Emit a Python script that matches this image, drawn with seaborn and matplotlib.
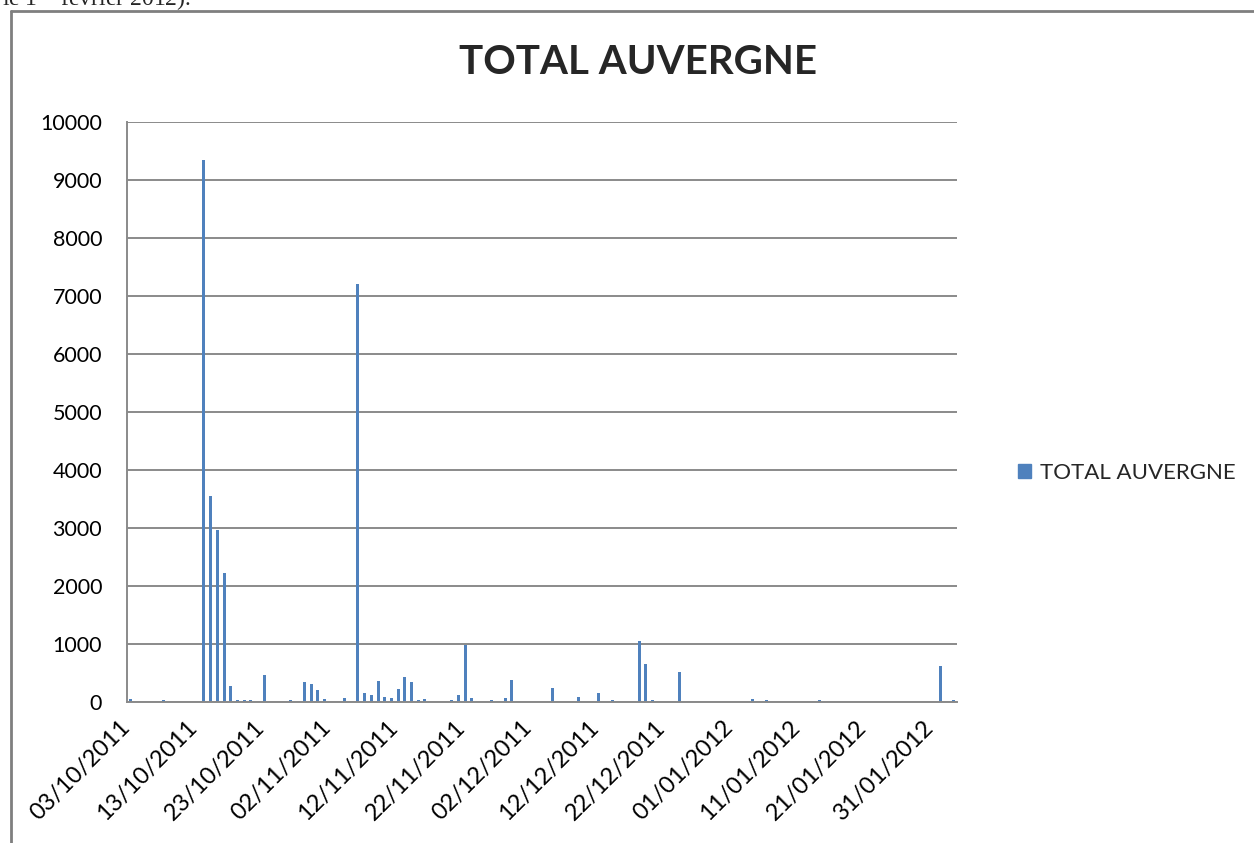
from datetime import datetime, timedelta

import numpy as np
import pandas as pd
import matplotlib.pyplot as plt
from matplotlib.lines import Line2D
import seaborn as sns


START = "03/10/2011"
END = "04/02/2012"
DATES = [
    "03/10/2011", "08/10/2011", "14/10/2011", "15/10/2011", "16/10/2011",
    "17/10/2011", "18/10/2011", "19/10/2011", "20/10/2011", "21/10/2011",
    "23/10/2011", "27/10/2011", "29/10/2011", "30/10/2011", "31/10/2011",
    "01/11/2011", "04/11/2011", "06/11/2011", "07/11/2011", "08/11/2011",
    "09/11/2011", "10/11/2011", "11/11/2011", "12/11/2011", "13/11/2011",
    "14/11/2011", "15/11/2011", "16/11/2011", "20/11/2011", "21/11/2011",
    "22/11/2011", "23/11/2011", "26/11/2011", "28/11/2011", "29/11/2011",
    "05/12/2011", "09/12/2011", "12/12/2011", "14/12/2011", "18/12/2011",
    "19/12/2011", "20/12/2011", "24/12/2011", "04/01/2012", "06/01/2012",
    "14/01/2012", "01/02/2012", "03/02/2012",
]
VALUES = [
    50, 30, 9350, 3550, 2970,
    2220, 270, 30, 30, 30,
    470, 30, 340, 315, 210,
    50, 70, 7200, 155, 115,
    365, 92, 70, 225, 430,
    340, 30, 50, 30, 115,
    990, 70, 30, 70, 380,
    245, 87, 155, 30, 1045,
    650, 30, 515, 50, 30,
    30, 625, 30,
]
SERIES = "TOTAL AUVERGNE"
TICK_STEP_DAYS = 10

BLUE = "#4F81BD"
GREY = "#8A8A8A"

start = datetime.strptime(START, "%d/%m/%Y")
end = datetime.strptime(END, "%d/%m/%Y")
df = pd.DataFrame({"date": pd.to_datetime(DATES, format="%d/%m/%Y"), "value": VALUES})
# Excel date axis, bars sit between tick marks (centre of each day)
df["pos"] = (df["date"] - start).dt.days + 0.5
span = (end - start).days

sns.set_style("white")
plt.rcParams["font.family"] = ["Lato", "DejaVu Sans"]

W, H = 1254, 843
fig = plt.figure(figsize=(W / 100, H / 100), dpi=100)
ax = fig.add_axes([127 / W, 1 - 702 / H, (957 - 127) / W, (702 - 122) / H])

sns.barplot(data=df, x="pos", y="value", native_scale=True, width=0.45,
            color=BLUE, saturation=1, errorbar=None, linewidth=0, ax=ax,
            label=SERIES, legend=False)

ax.set_xlim(0, span)
ax.set_ylim(0, 10000)
ticks = np.arange(0, span, TICK_STEP_DAYS)
ax.set_xticks(ticks)
ax.set_xticklabels([(start + timedelta(days=int(t))).strftime("%d/%m/%Y") for t in ticks],
                   rotation=45, ha="right", va="center", rotation_mode="anchor")
ax.set_yticks(np.arange(0, 10001, 1000))
ax.set_xlabel("")
ax.set_ylabel("")
ax.grid(axis="y", color=GREY, linewidth=1.4)
ax.grid(axis="x", visible=False)
ax.set_axisbelow(True)
for side in ["top", "right"]:
    ax.spines[side].set_visible(False)
for side in ["left", "bottom"]:
    ax.spines[side].set_color(GREY)
    ax.spines[side].set_linewidth(1.4)
ax.tick_params(axis="both", which="major", length=6, width=1.4, color=GREY,
               labelcolor="black", direction="out")
ax.tick_params(axis="x", pad=10, labelsize=17)
ax.tick_params(axis="y", pad=12, labelsize=15.5)

fig.text(638 / W, 1 - 63 / H, SERIES, ha="center", va="center",
         fontsize=29, fontweight="bold")

handle = plt.Rectangle((0, 0), 1, 1, color=BLUE)
fig.legend([handle], [SERIES], loc="center left", bbox_to_anchor=(1018 / W, 1 - 473 / H),
           frameon=False, fontsize=16, handlelength=0.6, handleheight=0.6,
           handletextpad=0.4, borderaxespad=0, borderpad=0)

# surrounding chart frame and the clipped document line above it
fig.add_artist(Line2D([11 / W, 1.01], [1 - 11 / H, 1 - 11 / H], color="#7F7F7F", linewidth=2))
fig.add_artist(Line2D([11 / W, 11 / W], [1 - 11 / H, -0.01], color="#7F7F7F", linewidth=2))
fig.text(2 / W, 1 - 7 / H, "le 1$^{\\mathrm{er}}$ février 2012).", ha="left", va="baseline",
         fontsize=17, family="Liberation Serif")

fig.savefig("out.png", dpi=100, facecolor="white")
